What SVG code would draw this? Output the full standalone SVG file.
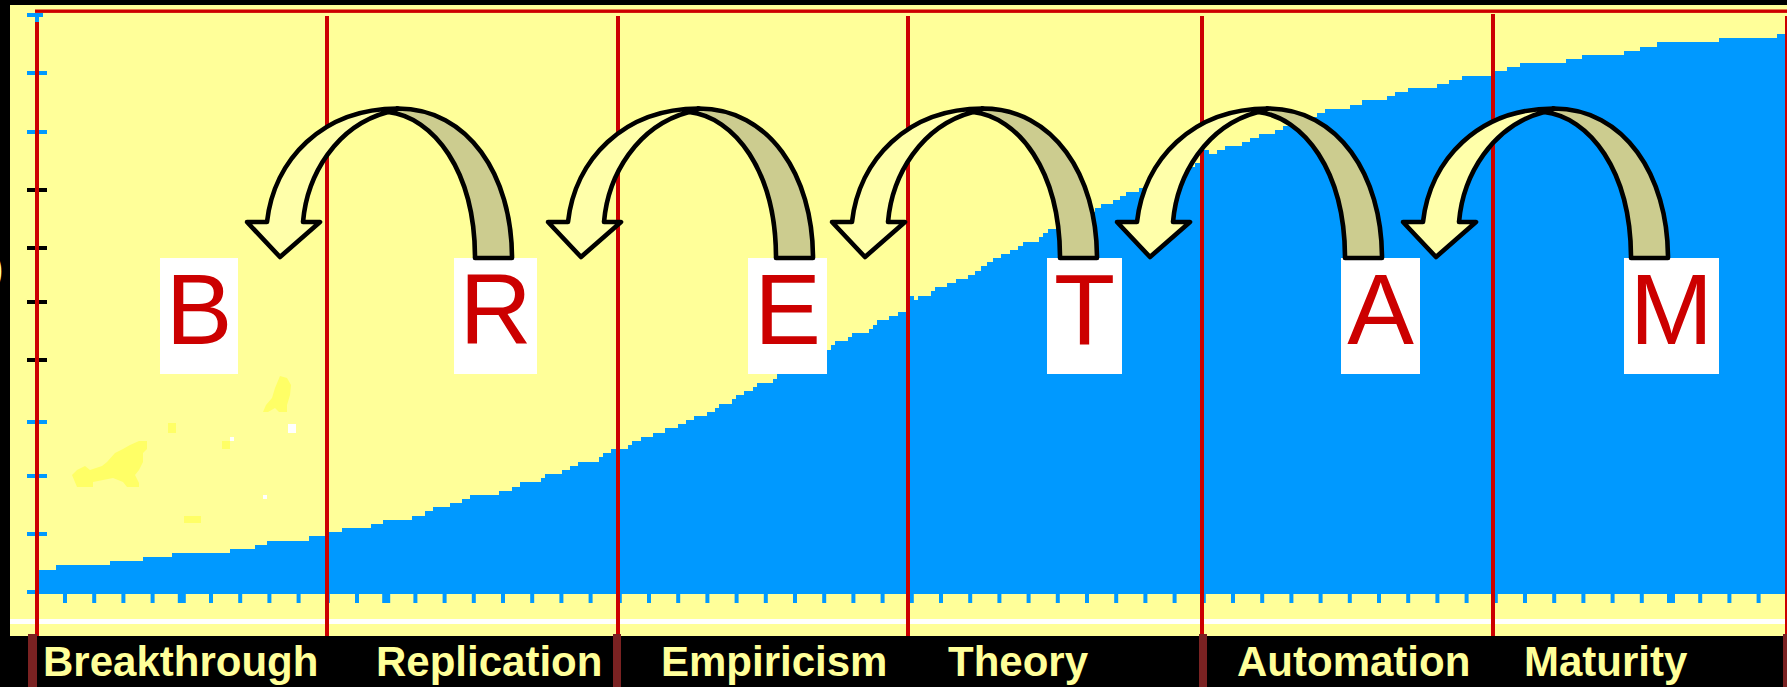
<svg xmlns="http://www.w3.org/2000/svg" xmlns:xlink="http://www.w3.org/1999/xlink" width="1787" height="687" viewBox="0 0 1787 687">
<style>
.bg{fill:#000000}
.plot{fill:#FFFF99}
.blob{fill:#FFFF66}
.dot{fill:#FFFFFF}
.area{fill:#0099FF}
.red{fill:#CC0000}
.bar{fill:#7A2222}
.tickb{fill:#000000}
.box{fill:#FFFFFF}
.letter{font-family:"Liberation Sans",Arial,sans-serif;font-size:100px;fill:#CC0000;text-anchor:middle}
.label{font-family:"Liberation Sans",Arial,sans-serif;font-size:42px;font-weight:bold;fill:#FFFF99}
.back{fill:#CCCC8F;stroke:#000;stroke-width:4.6;stroke-linejoin:round}
.front{fill:#FFFFAA;stroke:#000;stroke-width:4.6;stroke-linejoin:round}
</style>
<defs>
<g id="arw">
<path class="back" d="M388,112 L398,108.5 C468,108.5 512,175 512,258 L475,258 C475,170 433,117 388,112 Z"/>
<path class="front" d="M398,108.5 C322,108.5 274,160 267,222 L247,222 L280,257 L320,222 L303,222 C307,175 336,126 388,112 Z"/>
</g>
</defs>
<rect class="bg" x="0" y="0" width="1787" height="687"/>
<rect class="plot" x="10" y="5" width="1777" height="631"/>
<g id="blobs">
<polygon class="blob" points="72,475 77,470 85,466 90,470 102,466 107,462 115,453 123,449 130,445 139,441 147,441 147,449 143,453 143,462 139,470 135,475 139,483 139,487 127,487 123,482 113,478 93,482 93,487 77,487"/>
<polygon class="blob" points="280,376 287,378 291,385 290,395 287,405 287,412 279,412 275,408 268,412 263,412 266,405 272,398 275,388"/>
<rect class="blob" x="168" y="423" width="8" height="10"/>
<rect class="blob" x="184" y="516" width="17" height="7"/>
<rect class="blob" x="222" y="441" width="8" height="8"/>
<rect class="dot" x="288" y="424" width="8" height="9"/>
<rect class="dot" x="230" y="437" width="4" height="4"/>
<rect class="dot" x="263" y="495" width="4" height="4"/>
</g>
<path id="growth" class="area" d="M39,594 V570 H56 V565 H110 V561 H143 V557 H172 V553 H230 V549 H255 V545 H267 V541 H309 V536 H325 V532 H342 V528 H371 V524 H383 V520 H412 V516 H425 V511 H433 V507 H450 V503 H462 V499 H470 V495 H499 V491 H512 V487 H520 V482 H541 V478 H545 V474 H562 V470 H570 V466 H578 V462 H599 V457 H603 V453 H611 V449 H628 V445 H632 V441 H641 V437 H653 V433 H665 V428 H678 V424 H686 V420 H694 V416 H707 V412 H715 V408 H719 V404 H732 V399 H736 V395 H744 V391 H753 V387 H757 V383 H773 V379 H777 V374 H790 V370 H800 V366 H810 V362 H818 V357 H827 V350 H831 V345 H835 V341 H848 V337 H852 V333 H869 V329 H873 V325 H877 V320 H889 V316 H898 V312 H906 V308 H910 V296 H914 V300 H918 V296 H931 V291 H935 V287 H947 V283 H956 V279 H968 V275 H975 V271 H981 V266 H987 V262 H993 V258 H1001 V254 H1010 V250 H1018 V246 H1023 V242 H1039 V237 H1043 V233 H1048 V229 H1060 V225 H1070 V221 H1080 V216 H1090 V212 H1095 V208 H1101 V204 H1113 V200 H1120 V196 H1126 V192 H1139 V188 H1150 V184 H1160 V179 H1170 V175 H1180 V171 H1188 V167 H1195 V163 H1203 V150 H1209 V154 H1217 V150 H1225 V146 H1242 V142 H1250 V138 H1259 V134 H1275 V130 H1283 V126 H1295 V121 H1305 V117 H1317 V113 H1325 V109 H1350 V105 H1362 V100 H1387 V96 H1395 V92 H1408 V88 H1437 V84 H1449 V80 H1462 V76 H1495 V71 H1507 V67 H1520 V63 H1566 V59 H1582 V55 H1624 V51 H1640 V47 H1657 V42 H1719 V38 H1777 V34 H1787 V594 Z"/>
<path id="xticks" class="area" d="M63,594h4v9h-4z M92.2,594h4v9h-4z M121.4,594h4v9h-4z M150.6,594h4v9h-4z M177.8,594h8v9h-8z M209,594h4v9h-4z M238.2,594h4v9h-4z M267.4,594h4v9h-4z M296.6,594h4v9h-4z M325.8,594h4v9h-4z M355,594h4v9h-4z M382.2,594h8v9h-8z M413.4,594h4v9h-4z M442.6,594h4v9h-4z M471.8,594h4v9h-4z M501,594h4v9h-4z M530.2,594h4v9h-4z M559.4,594h4v9h-4z M588.6,594h4v9h-4z M617.8,594h4v9h-4z M647,594h4v9h-4z M676.2,594h4v9h-4z M705.4,594h4v9h-4z M734.6,594h4v9h-4z M763.8,594h4v9h-4z M793,594h4v9h-4z M822.2,594h4v9h-4z M851.4,594h4v9h-4z M880.6,594h4v9h-4z M909.8,594h4v9h-4z M939,594h4v9h-4z M968.2,594h4v9h-4z M997.4,594h4v9h-4z M1026.6,594h4v9h-4z M1055.8,594h4v9h-4z M1085,594h4v9h-4z M1114.2,594h4v9h-4z M1143.4,594h4v9h-4z M1172.6,594h4v9h-4z M1201.8,594h4v9h-4z M1231,594h4v9h-4z M1260.2,594h4v9h-4z M1289.4,594h4v9h-4z M1318.6,594h4v9h-4z M1347.8,594h4v9h-4z M1377,594h4v9h-4z M1406.2,594h4v9h-4z M1435.4,594h4v9h-4z M1464.6,594h4v9h-4z M1493.8,594h4v9h-4z M1523,594h4v9h-4z M1552.2,594h4v9h-4z M1581.4,594h4v9h-4z M1610.6,594h4v9h-4z M1639.8,594h4v9h-4z M1667,594h8v9h-8z M1698.2,594h4v9h-4z M1727.4,594h4v9h-4z M1756.6,594h4v9h-4z"/>
<rect x="10" y="619" width="1777" height="5" fill="#FFFFFF"/>
<g id="yaxis">
<rect class="area" x="35" y="13" width="4" height="581"/>
<rect class="area" x="27" y="13" width="16" height="4"/>
<rect class="area" x="27" y="71" width="20" height="4"/>
<rect class="area" x="27" y="130" width="20" height="4"/>
<rect class="tickb" x="27" y="188" width="20" height="4"/>
<rect class="tickb" x="27" y="246" width="20" height="4"/>
<rect class="tickb" x="27" y="300" width="20" height="4"/>
<rect class="tickb" x="27" y="358" width="20" height="4"/>
<rect class="area" x="27" y="420" width="20" height="4"/>
<rect class="area" x="27" y="474" width="20" height="4"/>
<rect class="area" x="27" y="532" width="20" height="4"/>
<rect class="area" x="27" y="590" width="20" height="4"/>
</g>
<g id="gridlines">
<rect class="red" x="35" y="9.5" width="1752" height="3.4"/>
<rect class="red" x="35" y="22" width="4" height="614"/>
<rect class="red" x="325" y="16" width="4" height="620"/>
<rect class="red" x="616" y="16" width="4" height="620"/>
<rect class="red" x="906" y="16" width="4" height="620"/>
<rect class="red" x="1200" y="16" width="4" height="620"/>
<rect class="red" x="1491" y="14" width="4" height="622"/>
<rect class="red" x="1785" y="16" width="4" height="620"/>
</g>
<text x="-9" y="281" class="label" style="font-size:36px">)</text>
<g id="node-B"><rect class="box" x="160" y="258" width="78" height="116"/><text class="letter" x="199" y="344">B</text></g>
<g id="node-R"><rect class="box" x="454" y="258" width="83" height="116"/><text class="letter" x="495.5" y="344">R</text></g>
<g id="node-E"><rect class="box" x="748" y="258" width="79" height="116"/><text class="letter" x="787.5" y="344">E</text></g>
<g id="node-T"><rect class="box" x="1047" y="258" width="75" height="116"/><text class="letter" x="1084.5" y="344">T</text></g>
<g id="node-A"><rect class="box" x="1341" y="258" width="79" height="116"/><text class="letter" x="1380.5" y="344">A</text></g>
<g id="node-M"><rect class="box" x="1624" y="258" width="95" height="116"/><text class="letter" x="1671.5" y="344">M</text></g>
<g id="connectors">
<use xlink:href="#arw" href="#arw" x="0" y="0"/>
<use xlink:href="#arw" href="#arw" x="301" y="0"/>
<use xlink:href="#arw" href="#arw" x="585" y="0"/>
<use xlink:href="#arw" href="#arw" x="870" y="0"/>
<use xlink:href="#arw" href="#arw" x="1156" y="0"/>
</g>
<g id="labels">
<rect class="bar" x="28" y="634" width="9" height="53"/>
<rect class="bar" x="613" y="634" width="8" height="53"/>
<rect class="bar" x="1199" y="634" width="8" height="53"/>
<rect class="bar" x="1783" y="634" width="4" height="53"/>
<text class="label" x="43" y="676">Breakthrough</text>
<text class="label" x="376" y="676">Replication</text>
<text class="label" x="661" y="676">Empiricism</text>
<text class="label" x="948" y="676">Theory</text>
<text class="label" x="1237" y="676">Automation</text>
<text class="label" x="1524" y="676">Maturity</text>
</g>
</svg>
